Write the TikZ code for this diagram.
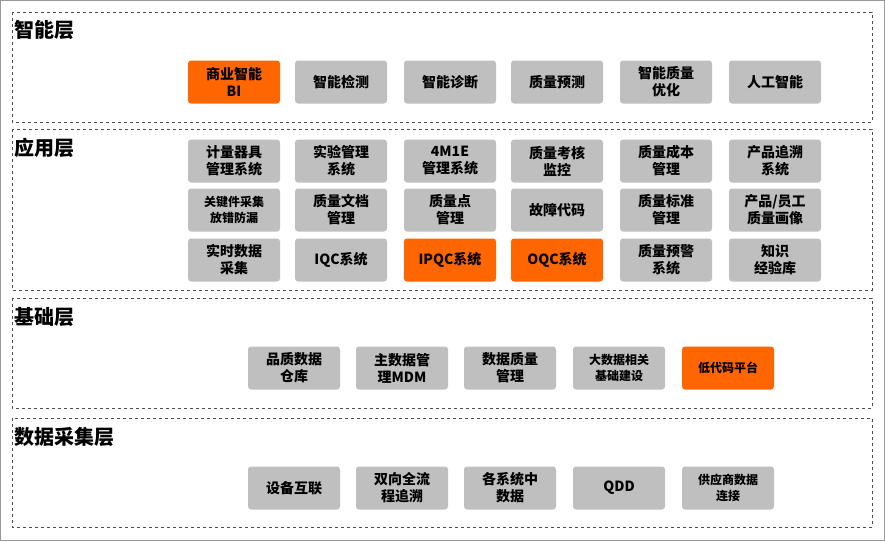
\documentclass[tikz,border=0pt]{standalone}
\usepackage{fontspec}
\newfontfamily\cjk{Noto Sans CJK SC}
\definecolor{bx}{HTML}{BFBFBF}
\definecolor{og}{HTML}{FF6600}
\tikzset{
 bx/.style={fill=bx,rounded corners=3pt,minimum width=92pt,minimum height=43pt,align=center,font=\cjk\fontsize{14}{17}\selectfont\bfseries,inner sep=1pt},
 og/.style={bx,fill=og},
 sm/.style={font=\cjk\fontsize{12}{16}\selectfont\bfseries},
 layer/.style={draw=black!70,dashed,line width=0.6pt},
 ttl/.style={anchor=north west,font=\cjk\fontsize{20}{22}\selectfont\bfseries,inner sep=0pt}
}
\begin{document}
\begin{tikzpicture}[x=1pt,y=-1pt]
\useasboundingbox (0,0) rectangle (885,541);
\draw[black!40,line width=0.8pt] (0.5,0.5) rectangle (884.5,540.5);
\draw[layer] (12,12) rectangle (872,122);
\draw[layer] (12,129) rectangle (872,290);
\draw[layer] (12,298) rectangle (872,408);
\draw[layer] (12,418) rectangle (872,527);
\node[ttl] (t1) at (14,20) {智能层};
\node[ttl] (t2) at (14,138) {应用层};
\node[ttl] (t3) at (14,307) {基础层};
\node[ttl] (t4) at (14,427) {数据采集层};
% smart
\node[og] (a1) at (234,82) {商业智能\\BI};
\node[bx] (a2) at (341,82) {智能检测};
\node[bx] (a3) at (450,82) {智能诊断};
\node[bx] (a4) at (557,82) {质量预测};
\node[bx] (a5) at (666,82) {智能质量\\优化};
\node[bx] (a6) at (775,82) {人工智能};
% app
\node[bx] (b1) at (234,161) {计量器具\\管理系统};
\node[bx] (b2) at (341,161) {实验管理\\系统};
\node[bx] (b3) at (450,161) {4M1E\\管理系统};
\node[bx] (b4) at (557,161) {质量考核\\监控};
\node[bx] (b5) at (666,161) {质量成本\\管理};
\node[bx] (b6) at (775,161) {产品追溯\\系统};
\node[bx,sm] (c1) at (234,210) {关键件采集\\放错防漏};
\node[bx] (c2) at (341,210) {质量文档\\管理};
\node[bx] (c3) at (450,210) {质量点\\管理};
\node[bx] (c4) at (557,210) {故障代码};
\node[bx] (c5) at (666,210) {质量标准\\管理};
\node[bx] (c6) at (775,210) {产品/员工\\质量画像};
\node[bx] (d1) at (234,260) {实时数据\\采集};
\node[bx] (d2) at (341,260) {IQC系统};
\node[og] (d3) at (450,260) {IPQC系统};
\node[og] (d4) at (557,260) {OQC系统};
\node[bx] (d5) at (666,260) {质量预警\\系统};
\node[bx] (d6) at (775,260) {知识\\经验库};
% base
\node[bx] (e1) at (294,368) {品质数据\\仓库};
\node[bx] (e2) at (402,368) {主数据管\\理MDM};
\node[bx] (e3) at (510,368) {数据质量\\管理};
\node[bx,sm] (e4) at (619,368) {大数据相关\\基础建设};
\node[og,sm] (e5) at (728,368) {低代码平台};
% data
\node[bx] (f1) at (294,488) {设备互联};
\node[bx] (f2) at (402,488) {双向全流\\程追溯};
\node[bx] (f3) at (510,488) {各系统中\\数据};
\node[bx] (f4) at (619,488) {QDD};
\node[bx,sm] (f5) at (728,488) {供应商数据\\连接};
\end{tikzpicture}
\end{document}
